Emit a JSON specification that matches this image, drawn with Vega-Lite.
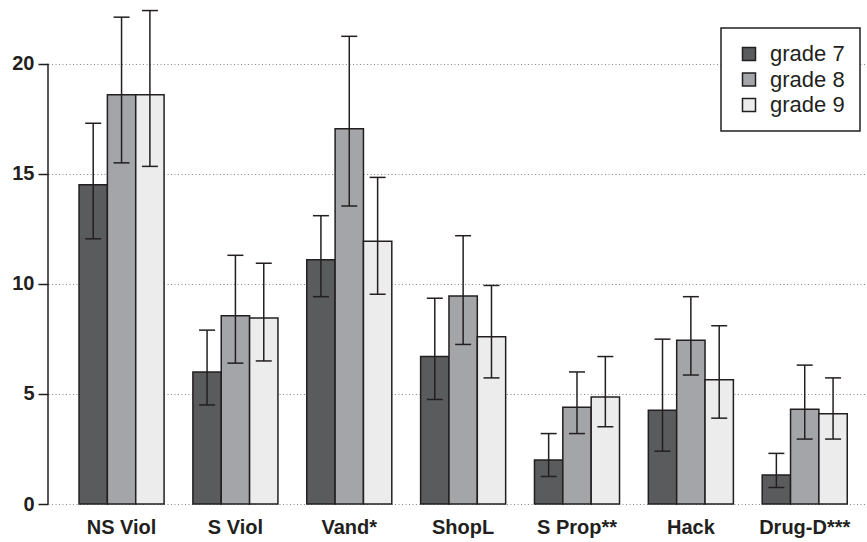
{
  "$schema": "https://vega.github.io/schema/vega-lite/v6.json",
  "width": 819,
  "height": 504,
  "autosize": "none",
  "padding": {"left": 48, "top": 0, "right": 0, "bottom": 38},
  "background": "white",
  "config": {
    "view": {"stroke": null},
    "font": "Liberation Sans"
  },
  "data": {
    "values": [
      {"category": "NS Viol", "grade": "grade 7", "mean": 14.5, "lo": 12.05, "hi": 17.3},
      {"category": "NS Viol", "grade": "grade 8", "mean": 18.6, "lo": 15.5, "hi": 22.12},
      {"category": "NS Viol", "grade": "grade 9", "mean": 18.6, "lo": 15.34, "hi": 22.42},
      {"category": "S Viol", "grade": "grade 7", "mean": 6.0, "lo": 4.5, "hi": 7.9},
      {"category": "S Viol", "grade": "grade 8", "mean": 8.55, "lo": 6.4, "hi": 11.3},
      {"category": "S Viol", "grade": "grade 9", "mean": 8.45, "lo": 6.5, "hi": 10.94},
      {"category": "Vand*", "grade": "grade 7", "mean": 11.1, "lo": 9.42, "hi": 13.1},
      {"category": "Vand*", "grade": "grade 8", "mean": 17.05, "lo": 13.54, "hi": 21.25},
      {"category": "Vand*", "grade": "grade 9", "mean": 11.94, "lo": 9.53, "hi": 14.84},
      {"category": "ShopL", "grade": "grade 7", "mean": 6.7, "lo": 4.75, "hi": 9.35},
      {"category": "ShopL", "grade": "grade 8", "mean": 9.45, "lo": 7.25, "hi": 12.19},
      {"category": "ShopL", "grade": "grade 9", "mean": 7.6, "lo": 5.73, "hi": 9.93},
      {"category": "S Prop**", "grade": "grade 7", "mean": 2.0, "lo": 1.25, "hi": 3.2},
      {"category": "S Prop**", "grade": "grade 8", "mean": 4.4, "lo": 3.2, "hi": 6.0},
      {"category": "S Prop**", "grade": "grade 9", "mean": 4.86, "lo": 3.51, "hi": 6.7},
      {"category": "Hack", "grade": "grade 7", "mean": 4.26, "lo": 2.4, "hi": 7.49},
      {"category": "Hack", "grade": "grade 8", "mean": 7.44, "lo": 5.86, "hi": 9.42},
      {"category": "Hack", "grade": "grade 9", "mean": 5.65, "lo": 3.9, "hi": 8.1},
      {"category": "Drug-D***", "grade": "grade 7", "mean": 1.32, "lo": 0.75, "hi": 2.3},
      {"category": "Drug-D***", "grade": "grade 8", "mean": 4.31, "lo": 2.95, "hi": 6.31},
      {"category": "Drug-D***", "grade": "grade 9", "mean": 4.1, "lo": 2.95, "hi": 5.73}
    ]
  },
  "encoding": {
    "x": {
      "field": "category",
      "type": "nominal",
      "sort": null,
      "title": null,
      "scale": {"paddingInner": 0.253, "paddingOuter": 0.223, "align": 0.611},
      "axis": {
        "domain": false,
        "ticks": false,
        "labelAngle": 0,
        "labelFont": "Liberation Sans",
        "labelFontSize": 20,
        "labelFontWeight": "bold",
        "labelColor": "#231f20",
        "labelPadding": 13
      }
    },
    "xOffset": {
      "field": "grade",
      "type": "nominal",
      "scale": {"paddingInner": 0, "paddingOuter": 0}
    }
  },
  "layer": [
    {
      "mark": {"type": "bar", "stroke": "#231f20", "strokeWidth": 1.5},
      "encoding": {
        "y": {
          "field": "mean",
          "type": "quantitative",
          "title": null,
          "scale": {"domain": [0, 22.9], "nice": false},
          "axis": {
            "values": [0, 5, 10, 15, 20],
            "domain": false,
            "tickSize": 10,
            "tickColor": "#231f20",
            "tickWidth": 1.5,
            "labelFont": "Liberation Sans",
            "labelFontSize": 20,
            "labelFontWeight": "bold",
            "labelColor": "#231f20",
            "labelPadding": 4,
            "grid": true,
            "gridColor": "#8a8a8a",
            "gridDash": [1, 2.5],
            "gridWidth": 1
          }
        },
        "fill": {
          "field": "grade",
          "type": "nominal",
          "scale": {"domain": ["grade 7", "grade 8", "grade 9"], "range": ["#5a5b5d", "#a4a5a9", "#ececec"]},
          "legend": {
            "title": null,
            "orient": "none",
            "legendX": 673,
            "legendY": 28,
            "direction": "vertical",
            "fillColor": "white",
            "strokeColor": "#231f20",
            "padding": 15,
            "symbolOffset": 2,
            "symbolType": "square",
            "symbolSize": 169,
            "symbolStrokeColor": "#231f20",
            "symbolStrokeWidth": 1.5,
            "symbolOpacity": 1,
            "labelFont": "Liberation Sans",
            "labelFontSize": 22,
            "labelColor": "#231f20",
            "labelOffset": 10,
            "rowPadding": 3.5,
            "encode": {"legend": {"update": {"strokeWidth": {"value": 1.5}}}}
          }
        }
      }
    },
    {
      "mark": {"type": "rule", "color": "#231f20", "strokeWidth": 1.5},
      "encoding": {
        "y": {"field": "lo", "type": "quantitative"},
        "y2": {"field": "hi"}
      }
    },
    {
      "mark": {"type": "tick", "color": "#231f20", "thickness": 1.5, "size": 16, "opacity": 1},
      "encoding": {
        "y": {"field": "lo", "type": "quantitative"}
      }
    },
    {
      "mark": {"type": "tick", "color": "#231f20", "thickness": 1.5, "size": 16, "opacity": 1},
      "encoding": {
        "y": {"field": "hi", "type": "quantitative"}
      }
    },
    {
      "data": {"values": [{"from": 0, "to": 20}]},
      "mark": {"type": "rule", "color": "#231f20", "strokeWidth": 1.5},
      "encoding": {
        "x": {"value": 0},
        "xOffset": null,
        "y": {"field": "from", "type": "quantitative"},
        "y2": {"field": "to"}
      }
    }
  ]
}
